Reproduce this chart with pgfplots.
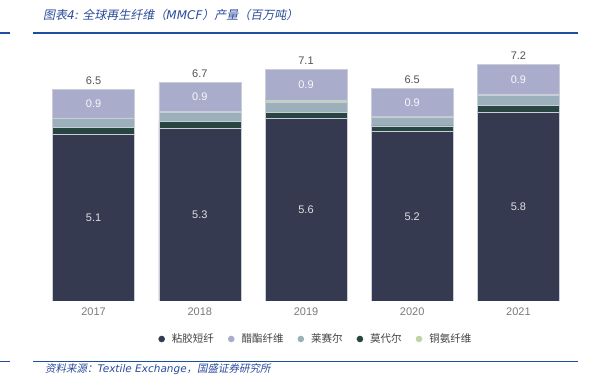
\documentclass[border=0pt]{standalone}
\usepackage{fontspec}
\setmainfont{Liberation Sans}
\newfontfamily\cjk{Noto Sans CJK SC}
\newfontfamily\cjksl[FakeSlant=0.2]{Noto Sans CJK SC}
\newfontfamily\latfont{DejaVu Sans}
\usepackage{pgfplots}
\usepackage{pgfplotstable}
\pgfplotsset{compat=1.18}
\definecolor{viscose}{HTML}{363A51}
\definecolor{acetate}{HTML}{A9ADCB}
\definecolor{lyocell}{HTML}{9BB0BA}
\definecolor{modal}{HTML}{294541}
\definecolor{cupro}{HTML}{BCD4A8}
\definecolor{hdblue}{HTML}{2A4C9C}
\definecolor{lineblue}{HTML}{1F4DA0}
\definecolor{barline}{HTML}{C9CDD8}

\pgfplotstableread{
x viscose modal lyocell cupro acetate
0 5.1 0.22 0.28 0.02 0.88
1 5.3 0.20 0.29 0.02 0.89
2 5.6 0.18 0.32 0.05 0.95
3 5.2 0.17 0.28 0.02 0.85
4 5.8 0.20 0.30 0.05 0.90
}\prodtab

\pgfplotstableread{
x y lab
0 2.55 5.1
1 2.65 5.3
2 2.80 5.6
3 2.60 5.2
4 2.90 5.8
}\vislab

\pgfplotstableread{
x y lab
0 6.06 0.9
1 6.26 0.9
2 6.625 0.9
3 6.095 0.9
4 6.80 0.9
}\acelab

\pgfplotstableread{
x y lab
0 6.77 6.5
1 6.97 6.7
2 7.37 7.1
3 6.79 6.5
4 7.52 7.2
}\totlab

\begin{document}
\begin{tikzpicture}
\useasboundingbox (0,0) rectangle (598bp,379bp);
% header and footer
\draw[lineblue, line width=1.4bp] (0,346bp) -- (10bp,346bp);
\draw[lineblue, line width=1.4bp] (33bp,346bp) -- (578bp,346bp);
\draw[lineblue, line width=1.4bp] (0,17.3bp) -- (10bp,17.3bp);
\draw[lineblue, line width=1.4bp] (33bp,17.3bp) -- (578bp,17.3bp);
\node[anchor=west, inner sep=0pt, text=hdblue] at (43bp,364.5bp)
  {\cjksl\fontsize{12bp}{14bp}\selectfont 图表{\latfont\itshape 4:} 全球再生纤维（{\latfont\itshape MMCF}）产量（百万吨）};
\node[anchor=west, inner sep=0pt, text=hdblue] at (45bp,9.5bp)
  {\cjksl\fontsize{10.5bp}{12bp}\selectfont 资料来源：{\latfont\itshape Textile Exchange}，国盛证券研究所};

\begin{axis}[
  at={(40.5bp,78bp)}, anchor=south west,
  scale only axis, width=531bp, height=260.8bp,
  xmin=-0.5, xmax=4.5, ymin=0, ymax=8,
  ybar stacked, bar width=82bp,
  axis line style={draw=none},
  major tick length=0pt,
  ytick=\empty,
  xtick=data,
  xticklabels={2017,2018,2019,2020,2021},
  xticklabel style={text=black!52, font=\fontsize{11bp}{13bp}\selectfont, yshift=-3bp},
  every axis plot/.append style={draw=barline, line width=0.5bp},
]
\addplot[fill=viscose] table[x=x, y=viscose] {\prodtab};
\addplot[fill=modal] table[x=x, y=modal] {\prodtab};
\addplot[fill=lyocell] table[x=x, y=lyocell] {\prodtab};
\addplot[fill=cupro] table[x=x, y=cupro] {\prodtab};
\addplot[fill=acetate] table[x=x, y=acetate] {\prodtab};
\end{axis}

\begin{axis}[
  at={(40.5bp,78bp)}, anchor=south west,
  scale only axis, width=531bp, height=260.8bp,
  xmin=-0.5, xmax=4.5, ymin=0, ymax=8,
  hide axis,
  clip=false,
  legend columns=5,
  legend cell align=left,
  legend image code/.code={\fill[#1] (3.3bp,0bp) circle (3.3bp);},
  legend style={at={(0.222,-0.1457)}, anchor=west, draw=none, fill=none,
    inner sep=0pt, outer sep=0pt,
    font=\cjk\fontsize{10.5bp}{12bp}\selectfont, text=black!75,
    /tikz/every odd column/.append style={column sep=5bp},
    /tikz/every even column/.append style={column sep=12bp}},
]
\addplot[only marks, mark=none, forget plot, point meta=explicit symbolic,
  nodes near coords, nodes near coords align=center,
  every node near coord/.append style={text=black!12!white, font=\fontsize{11bp}{13bp}\selectfont, anchor=center}]
  table[x=x, y=y, meta=lab] {\vislab};
\addplot[only marks, mark=none, forget plot, point meta=explicit symbolic,
  nodes near coords, nodes near coords align=center,
  every node near coord/.append style={text=white!92!acetate, font=\fontsize{11bp}{13bp}\selectfont, anchor=center}]
  table[x=x, y=y, meta=lab] {\acelab};
\addplot[only marks, mark=none, forget plot, point meta=explicit symbolic,
  nodes near coords, nodes near coords align=center,
  every node near coord/.append style={text=black!68, font=\fontsize{11bp}{13bp}\selectfont, anchor=center}]
  table[x=x, y=y, meta=lab] {\totlab};
\addlegendimage{fill=viscose, draw=none}
\addlegendentry{粘胶短纤}
\addlegendimage{fill=acetate, draw=none}
\addlegendentry{醋酯纤维}
\addlegendimage{fill=lyocell, draw=none}
\addlegendentry{莱赛尔}
\addlegendimage{fill=modal, draw=none}
\addlegendentry{莫代尔}
\addlegendimage{fill=cupro, draw=none}
\addlegendentry{铜氨纤维}
\end{axis}
\end{tikzpicture}
\end{document}
